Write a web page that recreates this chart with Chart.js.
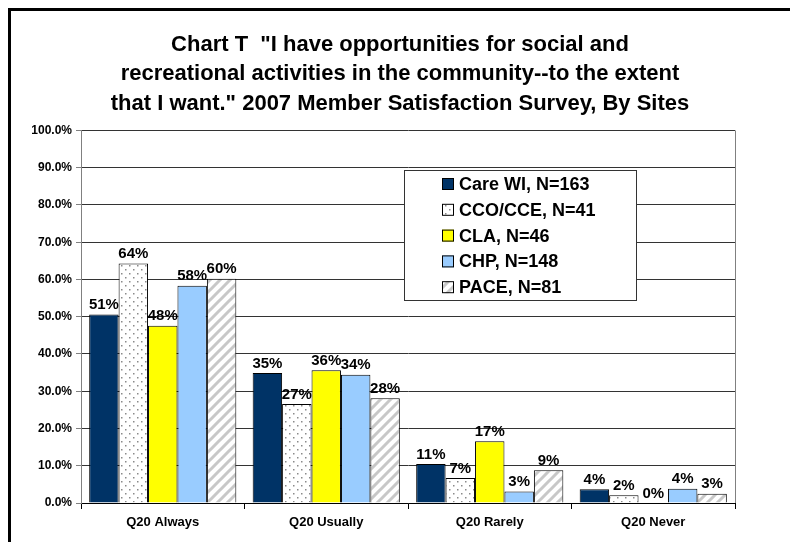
<!DOCTYPE html>
<html>
<head>
<meta charset="utf-8">
<script src="https://cdn.jsdelivr.net/npm/chart.js@4.4.1/dist/chart.umd.min.js"></script>
<style>
	body { margin: 0; background: #fff; overflow: hidden; }
	#wrap { position: relative; width: 790px; height: 542px; }
	#frame { position: absolute; left: 8px; top: 8px; width: 820px; height: 600px; border-left: 3px solid #000; border-top: 3px solid #000; pointer-events: none; }
</style>
</head>
<body>
<div id="wrap">
	<canvas id="chart" width="790" height="542"></canvas>
	<div id="frame"></div>
</div>
<script>
// Chart T - social / recreational opportunities, by site

const categories = ['Q20 Always', 'Q20 Usually', 'Q20 Rarely', 'Q20 Never'];
const siteLabels = ['Care WI, N=163', 'CCO/CCE, N=41', 'CLA, N=46', 'CHP, N=148', 'PACE, N=81'];

// percent of members per answer
const careWI = [50.6, 34.9, 10.5, 3.7];
const ccoCce = [64.3, 26.6, 6.7, 2.1];
const cla = [47.6, 35.6, 16.6, 0];
const chp = [58.3, 34.4, 3.1, 3.8];
const pace = [60.2, 28.1, 8.8, 2.5];

const yMin = 0;
const yMax = 100;
const yStep = 10;

const titleLines = [
	'Chart T  "I have opportunities for social and',
	'recreational activities in the community--to the extent',
	'that I want." 2007 Member Satisfaction Survey, By Sites'
];

const FONT = 'Arial, "Liberation Sans", sans-serif';

// fill patterns for the white bars
function dotPattern() {
	const c = document.createElement('canvas');
	c.width = 8; c.height = 8;
	const g = c.getContext('2d');
	g.fillStyle = '#fff';
	g.fillRect(0, 0, 8, 8);
	g.fillStyle = '#8a8a8a';
	g.fillRect(1, 1, 1.5, 1.5);
	g.fillRect(5, 5, 1.5, 1.5);
	return g.createPattern(c, 'repeat');
}

function stripePattern() {
	const c = document.createElement('canvas');
	c.width = 10; c.height = 10;
	const g = c.getContext('2d');
	g.fillStyle = '#fff';
	g.fillRect(0, 0, 10, 10);
	g.strokeStyle = '#c8c8c8';
	g.lineWidth = 3;
	g.beginPath();
	g.moveTo(-2, 12); g.lineTo(12, -2);
	g.moveTo(-2, 2); g.lineTo(2, -2);
	g.moveTo(8, 12); g.lineTo(12, 8);
	g.stroke();
	return g.createPattern(c, 'repeat');
}

const fills = ['#003366', dotPattern(), '#ffff00', '#99ccff', stripePattern()];
const seriesData = [careWI, ccoCce, cla, chp, pace];

// value labels above the bars
const barLabels = {
	id: 'barLabels',
	afterDatasetsDraw(chart) {
		const ctx = chart.ctx;
		ctx.save();
		ctx.font = 'bold 15px ' + FONT;
		ctx.fillStyle = '#000';
		ctx.textAlign = 'center';
		ctx.textBaseline = 'bottom';
		chart.data.datasets.forEach((ds, i) => {
			chart.getDatasetMeta(i).data.forEach((bar, j) => {
				ctx.fillText(Math.round(ds.data[j]) + '%', bar.x, bar.y - 2);
			});
		});
		ctx.restore();
	}
};

// plot area border on the right
const plotBorder = {
	id: 'plotBorder',
	beforeDatasetsDraw(chart) {
		const a = chart.chartArea;
		const ctx = chart.ctx;
		ctx.save();
		ctx.strokeStyle = '#808080';
		ctx.lineWidth = 1;
		ctx.beginPath();
		ctx.moveTo(Math.round(a.right) + 0.5, a.top);
		ctx.lineTo(Math.round(a.right) + 0.5, a.bottom);
		ctx.stroke();
		ctx.restore();
	}
};

// boxed legend inside the plot
const boxLegend = {
	id: 'boxLegend',
	afterDraw(chart) {
		const ctx = chart.ctx;
		const left = 404, top = 170, w = 232, h = 130;
		ctx.save();
		ctx.fillStyle = '#fff';
		ctx.fillRect(left, top, w, h);
		ctx.strokeStyle = '#333';
		ctx.lineWidth = 1;
		ctx.strokeRect(left + 0.5, top + 0.5, w, h);
		ctx.font = 'bold 18px ' + FONT;
		ctx.textBaseline = 'middle';
		chart.data.datasets.forEach((ds, i) => {
			const cy = top + 14 + i * 25.8;
			ctx.fillStyle = ds.backgroundColor;
			ctx.fillRect(442, cy - 6, 12, 12);
			ctx.strokeStyle = '#000';
			ctx.strokeRect(442.5, cy - 5.5, 11, 11);
			ctx.fillStyle = '#000';
			ctx.fillText(ds.label, 459, cy + 1);
		});
		ctx.restore();
	}
};

const ctx = document.getElementById('chart').getContext('2d');

new Chart(ctx, {
	type: 'bar',
	data: {
		labels: categories,
		datasets: siteLabels.map((label, i) => ({
			label: label,
			data: seriesData[i],
			backgroundColor: fills[i],
			borderColor: '#000',
			borderWidth: 1,
			borderSkipped: 'bottom',
			categoryPercentage: 0.9,
			barPercentage: 1.0
		}))
	},
	options: {
		responsive: false,
		devicePixelRatio: 1,
		animation: false,
		layout: {
			padding: { left: 10, right: 0, top: 0, bottom: 0 }
		},
		plugins: {
			legend: { display: false },
			tooltip: { enabled: false },
			title: {
				display: true,
				text: titleLines,
				color: '#000',
				font: { family: FONT, size: 22, weight: 'bold', lineHeight: 1.34 },
				padding: { top: 30, bottom: 12 }
			}
		},
		scales: {
			x: {
				grid: {
					drawOnChartArea: false,
					drawTicks: true,
					tickLength: 6,
					color: '#000',
					offset: true
				},
				border: { color: '#000' },
				ticks: {
					color: '#000',
					padding: 6,
					font: { family: FONT, size: 13, weight: 'bold' }
				},
				afterFit(scale) { scale.height = 39; }
			},
			y: {
				min: yMin,
				max: yMax,
				grid: {
					color: '#333',
					tickLength: 5,
					tickColor: '#808080'
				},
				border: { color: '#808080' },
				ticks: {
					stepSize: yStep,
					color: '#000',
					padding: 4,
					font: { family: FONT, size: 12, weight: 'bold' },
					callback: v => v.toFixed(1) + '%'
				},
				afterFit(scale) { scale.width = 71; }
			},
			// empty right-hand axis, only reserves the margin
			yRight: {
				position: 'right',
				min: yMin,
				max: yMax,
				grid: { display: false },
				border: { display: false },
				ticks: { display: false },
				afterFit(scale) { scale.width = 55; }
			}
		}
	},
	plugins: [plotBorder, barLabels, boxLegend]
});
</script>
</body>
</html>
